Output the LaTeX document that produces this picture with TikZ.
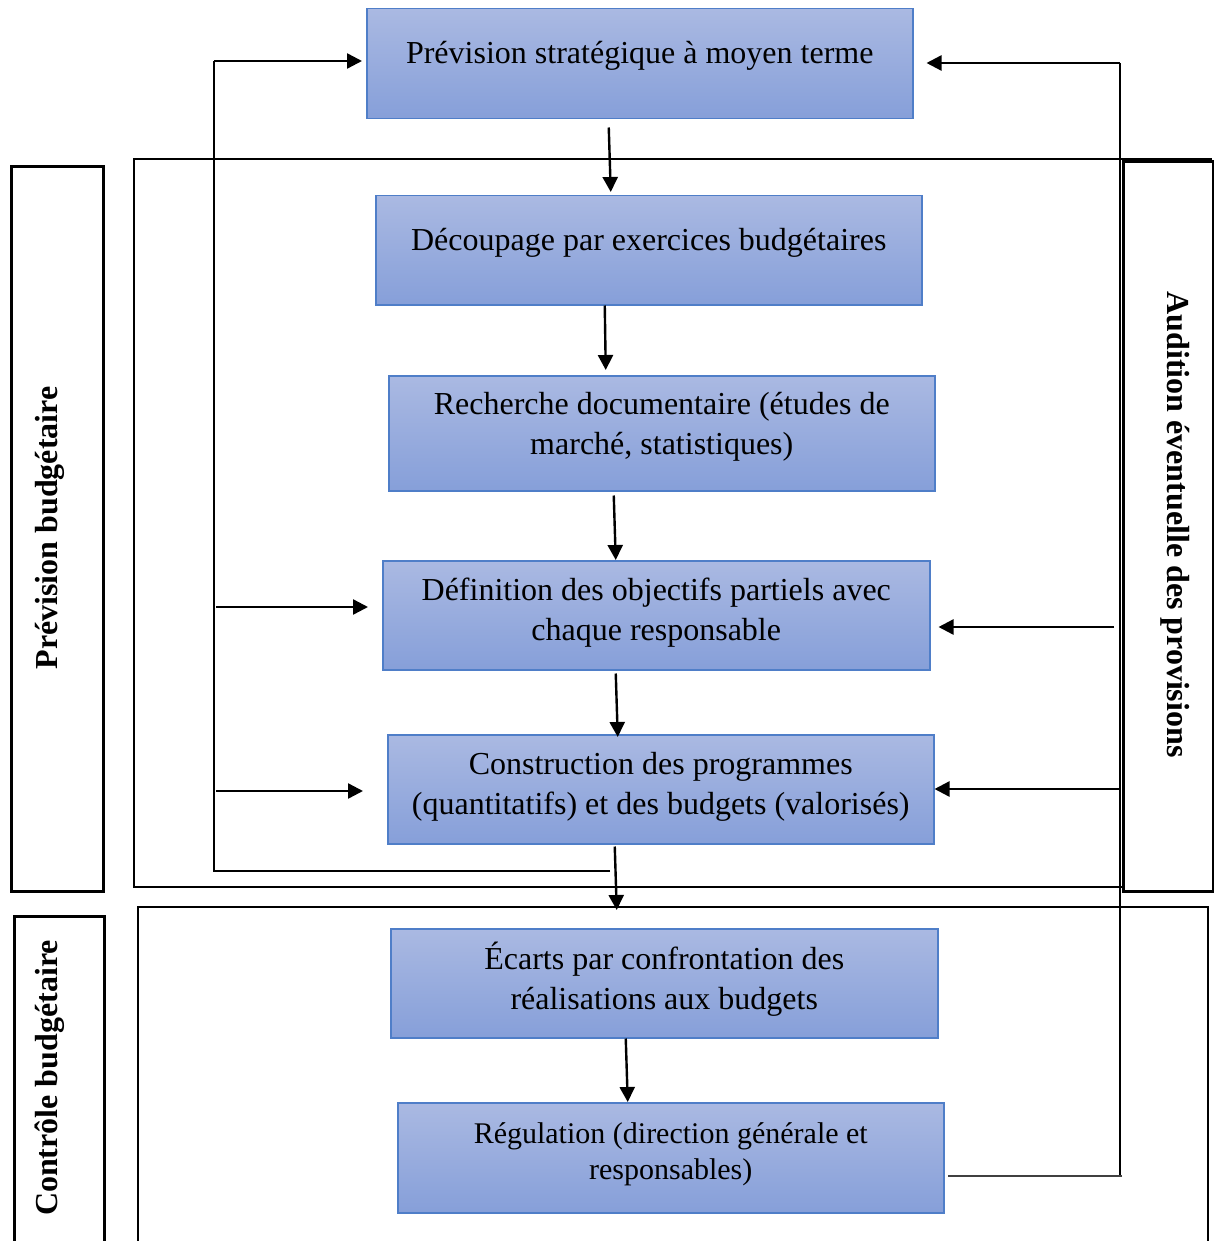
\documentclass[tikz,border=0pt]{standalone}
\usepackage{fontspec}
\setmainfont{Liberation Serif}
\usetikzlibrary{arrows.meta}
\definecolor{boxtop}{RGB}{170,185,226}
\definecolor{boxbot}{RGB}{134,159,217}
\definecolor{boxline}{RGB}{79,126,200}
\begin{document}
\begin{tikzpicture}[x=1pt,y=-1pt,
  stage/.style={draw=boxline, line width=1.5pt, top color=boxtop, bottom color=boxbot,
    minimum width=546pt, minimum height=110pt, inner sep=0pt, anchor=north west},
  txt/.style={font=\fontsize{32}{39.5}\selectfont, align=center, inner sep=0pt, anchor=base},
  smalltxt/.style={font=\fontsize{30}{36}\selectfont, align=center, inner sep=0pt, anchor=base},
  panel/.style={draw, line width=3pt, minimum width=92pt, inner sep=0pt, anchor=north west},
  side/.style={font=\bfseries\fontsize{32}{40}\selectfont, inner sep=0pt, anchor=base},
  arr/.style={line width=2.4pt, -{Triangle[length=15pt,width=15pt]}},
  thinline/.style={line width=1.3pt},
  loopline/.style={line width=1.6pt}]
\useasboundingbox (0,0) rectangle (1213,1241);

% process stages
\node[stage, minimum height=110pt] (b1) at (366,8) {};
\node[stage, minimum height=109pt] (b2) at (375,195) {};
\node[stage, minimum height=115pt] (b3) at (388,375) {};
\node[stage, minimum width=547pt, minimum height=109pt] (b4) at (382,560) {};
\node[stage, minimum height=109pt] (b5) at (387,734) {};
\node[stage, minimum width=547pt, minimum height=109pt] (b6) at (390,928) {};
\node[stage, minimum height=110pt] (b7) at (397,1102) {};

% stage texts (the base anchor of a two-line text sits on its last line)
\node[txt] (t1) at ([yshift=-56pt]b1.north) {Prévision stratégique à moyen terme};
\node[txt] (t2) at ([yshift=-56pt]b2.north) {Découpage par exercices budgétaires};
\node[txt] (t3) at ([yshift=-79pt]b3.north) {Recherche documentaire (études de\\marché, statistiques)};
\node[txt] (t4) at ([yshift=-80pt]b4.north) {Définition des objectifs partiels avec\\chaque responsable};
\node[txt] (t5) at ([yshift=-80pt]b5.north) {Construction des programmes\\(quantitatifs) et des budgets (valorisés)};
\node[txt] (t6) at ([yshift=-81pt]b6.north) {Écarts par confrontation des\\réalisations aux budgets};
\node[smalltxt] (t7) at ([yshift=-77pt]b7.north) {Régulation (direction générale et\\responsables)};

% phase frames
\draw[thinline] (1212,159) -- (134,159) -- (134,887) -- (1122,887);
\draw[thinline] (138,1260) -- (138,907) -- (1208,907) -- (1208,1260);

\node[panel, minimum height=725pt] (pb) at (10,165) {};
\node[panel, minimum width=90pt, minimum height=345pt] (cb) at (13,915) {};
\node[panel, minimum width=90pt, minimum height=730pt] (ap) at (1122,160) {};

\node[side, rotate=90] (lp) at (57,528) {Prévision budgétaire};
\node[side, rotate=90] (lc) at (57,1078) {Contrôle budgétaire};
\node[side, rotate=-90] (la) at (1167,524.5) {Audition éventuelle des provisions};

% main flow
\draw[arr] ([xshift=-31pt,yshift=-8pt]b1.south) -- ([xshift=-38pt,yshift=3pt]b2.north);
\draw[arr] ([xshift=-44pt]b2.south) -- ([xshift=-56pt,yshift=5pt]b3.north);
\draw[arr] ([xshift=-48pt,yshift=-4pt]b3.south) -- ([xshift=-40.5pt]b4.north);
\draw[arr] ([xshift=-40.5pt,yshift=-3pt]b4.south) -- ([xshift=-43pt,yshift=-3pt]b5.north);
\draw[arr] ([xshift=-46pt,yshift=-2pt]b5.south) -- ([xshift=-47.5pt,yshift=18pt]b6.north);
\draw[arr] ([xshift=-38.5pt]b6.south) -- ([xshift=-43pt]b7.north);

% left feedback loop
\coordinate (lt) at (214,61);
\coordinate (lb) at (214,871);
\coordinate (le) at (610,871);
\coordinate (l4) at (216,607);
\coordinate (l5) at (216,791);
\draw[loopline] (le) -- (lb) -- (lt);
\draw[arr, shorten >=4pt] (lt) -- (lt -| b1.west);
\draw[arr, shorten >=14pt] (l4) -- (l4 -| b4.west);
\draw[arr, shorten >=24pt] (l5) -- (l5 -| b5.west);

% right feedback loop
\coordinate (rt) at (1120,63);
\coordinate (rb) at (1120,1176);
\coordinate (re) at (1122,1176);
\coordinate (r4) at (1114,627);
\coordinate (r5) at (1120,789);
\draw[loopline] (rt) -- (rb);
\draw[line width=2pt, black!75, shorten >=3pt] (re) -- (re -| b7.east);
\draw[arr, shorten >=13pt] (rt) -- (rt -| b1.east);
\draw[arr, shorten >=8pt] (r4) -- (r4 -| b4.east);
\draw[arr] (r5) -- (r5 -| b5.east);
\end{tikzpicture}
\end{document}
